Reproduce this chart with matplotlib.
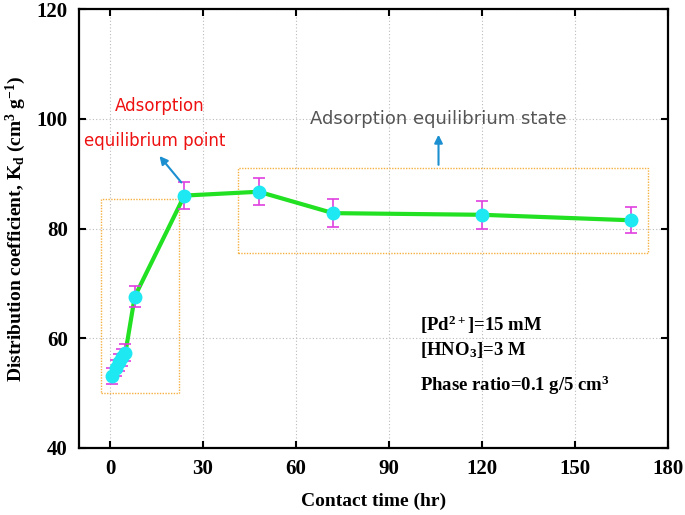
import matplotlib
matplotlib.use("Agg")
import matplotlib.pyplot as plt
from matplotlib.patches import Rectangle

time_hr = [0.5, 2, 3, 4, 5, 8, 24, 48, 72, 120, 168]
kd = [53.1, 54.6, 55.6, 56.5, 57.4, 67.6, 86.0, 86.7, 82.8, 82.5, 81.5]
kd_err = [1.5, 1.5, 1.5, 1.5, 1.5, 1.9, 2.5, 2.5, 2.5, 2.5, 2.4]
xticks = [0, 30, 60, 90, 120, 150, 180]
yticks = [40, 60, 80, 100, 120]

plt.rcParams['font.family'] = ['Liberation Serif', 'DejaVu Serif']
plt.rcParams['mathtext.fontset'] = 'custom'
plt.rcParams['mathtext.rm'] = 'Liberation Serif:bold'
plt.rcParams['mathtext.it'] = 'Liberation Serif:bold'
plt.rcParams['mathtext.bf'] = 'Liberation Serif:bold'

fig = plt.figure(figsize=(6.85, 5.15), dpi=100)
ax = fig.add_axes([0.1153, 0.1301, 0.8597, 0.8524])

ax.errorbar(time_hr, kd, yerr=kd_err, fmt='none', ecolor='#e040e0',
            elinewidth=1.2, capsize=4, capthick=1.2, zorder=3)
ax.plot(time_hr, kd, '-', color='#22e022', lw=3, zorder=2)
ax.plot(time_hr, kd, 'o', color='#1ee8f2', markersize=9, zorder=4, mec='#1ee8f2')

ax.set_xlim(-10, 180)
ax.set_ylim(40, 120)
ax.set_xticks(xticks)
ax.set_yticks(yticks)
ax.set_xticklabels([str(t) for t in xticks], fontsize=15, fontweight='bold')
ax.set_yticklabels([str(t) for t in yticks], fontsize=15, fontweight='bold')
ax.tick_params(direction='in', length=5, width=1.5, top=True, right=True,
               labeltop=False, labelright=False, pad=8)
for s in ax.spines.values():
    s.set_linewidth(1.6)
ax.grid(True, linestyle=(0, (1, 2)), color='#bbbbbb', lw=0.8)
ax.set_axisbelow(True)

ax.set_xlabel('Contact time (hr)', fontsize=14, fontweight='bold', labelpad=10)
ax.set_ylabel(r'Distribution coefficient, K$_d$ (cm$^3$ g$^{-1}$)', fontsize=14,
              fontweight='bold', labelpad=6)

# dotted boxes
ax.add_patch(Rectangle((-2.9, 50), 25.1, 35.4, fill=False, ec='#f5b040',
                       lw=1, ls=(0, (1, 1)), zorder=1))
ax.add_patch(Rectangle((41.2, 75.5), 132.3, 15.6, fill=False, ec='#f5b040',
                       lw=1, ls=(0, (1, 1)), zorder=1))

# annotations
ax.text(16, 102.4, 'Adsorption', color='#ee1111', fontsize=12,
        family='DejaVu Sans', ha='center', va='center')
ax.text(14.4, 96.0, 'equilibrium point', color='#ee1111', fontsize=12,
        family='DejaVu Sans', ha='center', va='center')
ax.annotate('', xy=(15.4, 93.6), xytext=(23.6, 88.0),
            arrowprops=dict(arrowstyle='-|>', color='#1b8fd0', lw=1.5, mutation_scale=12))
ax.text(106, 100, 'Adsorption equilibrium state', color='#555555', fontsize=13,
        family='DejaVu Sans', ha='center', va='center')
ax.annotate('', xy=(106, 97.6), xytext=(106, 91.1),
            arrowprops=dict(arrowstyle='-|>', color='#1b8fd0', lw=1.5, mutation_scale=12))

ax.text(100, 62.4, r'[Pd$^{2+}$]=15 mM', fontsize=13.5, fontweight='bold', va='center')
ax.text(100, 57.8, r'[HNO$_3$]=3 M', fontsize=13.5, fontweight='bold', va='center')
ax.text(100, 51.5, r'Phase ratio=0.1 g/5 cm$^3$', fontsize=13.5, fontweight='bold', va='center')

fig.savefig('out.png', dpi=100)
